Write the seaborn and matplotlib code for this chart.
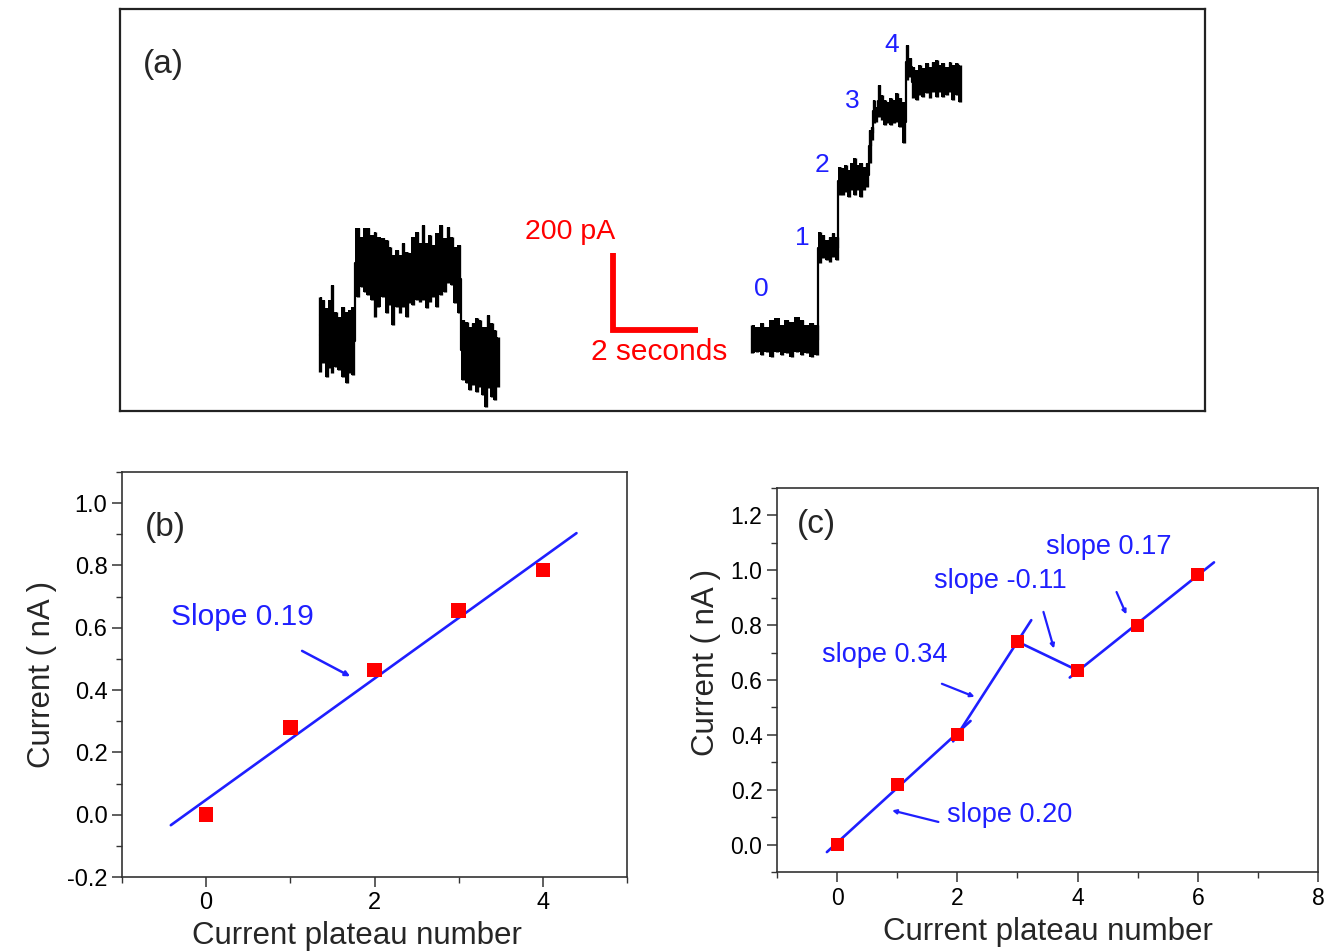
import numpy as np
import pandas as pd
import matplotlib
matplotlib.use("Agg")
import matplotlib.pyplot as plt
from matplotlib.ticker import MultipleLocator
import seaborn as sns

# ---------------- data ----------------
# panel (a): current traces (time in s, current envelope in pA)
left_t = [4.71, 4.78, 4.87, 4.94, 4.99, 5.08, 5.15, 5.25, 5.34, 5.41, 5.48,
          5.60, 5.69, 5.76, 5.84, 5.93, 6.00, 6.07, 6.19, 6.28, 6.35, 6.42, 6.52, 6.59, 6.66, 6.75,
          6.82, 6.89, 6.99, 7.06, 7.13, 7.22, 7.29, 7.36, 7.46, 7.55, 7.65, 7.72, 7.81, 7.88, 7.98,
          8.07, 8.16, 8.24, 8.31, 8.40, 8.47, 8.54, 8.61, 8.66, 8.75, 8.82, 8.89]
left_hi = [296, 289, 268, 289, 328, 257, 244, 270, 257, 263, 270,
           476, 452, 476, 476, 458, 465, 452, 450, 445, 426, 406, 419, 406, 437, 413,
           411, 452, 465, 437, 484, 437, 458, 432, 463, 484, 450, 478, 452, 426, 432,
           237, 231, 218, 229, 242, 237, 218, 218, 250, 229, 211, 192]
left_lo = [101, 125, 88, 112, 99, 114, 107, 88, 73, 99, 94,
           296, 322, 309, 302, 289, 244, 270, 296, 255, 276, 224, 270, 255, 270, 244,
           281, 276, 289, 283, 289, 268, 283, 296, 270, 302, 309, 333, 328, 281, 255,
           81, 73, 55, 68, 49, 62, 42, 10, 60, 36, 29, 62]

right_t = [14.87, 14.99, 15.11, 15.22, 15.34, 15.46, 15.58, 15.69, 15.81, 15.93, 16.05, 16.16, 16.28, 16.40,
           16.47, 16.54, 16.64, 16.71, 16.78, 16.87,
           16.94, 17.01, 17.08, 17.15, 17.22, 17.29, 17.36, 17.44, 17.51, 17.58,
           17.65, 17.69, 17.74,
           17.79, 17.86, 17.93, 18.00, 18.07, 18.14, 18.21, 18.28, 18.35, 18.45,
           18.52, 18.59, 18.66, 18.75, 18.82, 18.89, 18.99, 19.06, 19.13, 19.22, 19.29, 19.36,
           19.46, 19.53, 19.60, 19.69, 19.76]
right_hi = [224, 218, 229, 218, 237, 242, 224, 237, 231, 244, 237, 224, 229, 224,
            465, 458, 445, 452, 463, 452,
            634, 632, 640, 627, 645, 658, 640, 645, 634, 645,
            731, 738, 809,
            790, 848, 822, 809, 803, 814, 809, 827, 814, 803,
            952, 918, 894, 887, 900, 892, 905, 894, 907, 913, 900, 905, 894, 907, 900, 905, 900]
right_lo = [151, 153, 146, 153, 140, 153, 146, 151, 140, 153, 146, 151, 140, 146,
            385, 398, 393, 387, 400, 393,
            562, 562, 569, 556, 575, 562, 575, 556, 575, 582,
            645, 705, 749,
            751, 764, 757, 744, 749, 744, 749, 751, 738, 697,
            861, 868, 814, 809, 822, 816, 827, 814, 829, 816, 829, 816, 822, 829, 809, 822, 803]

plateau_labels = ["0", "1", "2", "3", "4"]
plateau_label_t = [15.1, 16.05, 16.52, 17.22, 18.16]
plateau_label_I = [317, 450, 640, 806, 952]

scale_t0, scale_I0 = 11.6, 210      # corner of the scale bar
scale_dt, scale_dI = 2.0, 200       # 2 seconds, 200 pA

# panel (b)
b_plateau = [0, 1, 2, 3, 4]
b_current = [0.0, 0.28, 0.465, 0.655, 0.785]
b_fit_range = [-0.42, 4.4]

# panel (c)
c_plateau = [0, 1, 2, 3, 4, 5, 6]
c_current = [0.0, 0.22, 0.40, 0.74, 0.635, 0.80, 0.985]
# (first index, last index, x start, x end) of each fitted segment
c_segments = [(0, 2, -0.17, 2.22), (2, 3, 1.93, 3.23), (3, 4, 3.0, 4.0), (4, 6, 3.87, 6.27)]

# ---------------- style ----------------
sns.set_theme(style="ticks")
plt.rcParams["font.family"] = ["Liberation Sans", "DejaVu Sans"]
plt.rcParams["axes.edgecolor"] = "#333333"
plt.rcParams["axes.linewidth"] = 1.2

BLUE = "#1f1fff"
RED = "#ff0000"

fig = plt.figure(figsize=(13.39, 9.52), dpi=100)

# ---------------- panel (a) ----------------
axa = fig.add_axes([120 / 1339, 1 - 411 / 952, 1085 / 1339, 402 / 952])
for t, hi, lo in [(left_t, left_hi, left_lo), (right_t, right_hi, right_lo)]:
    t = np.asarray(t); hi = np.asarray(hi); lo = np.asarray(lo)
    axa.fill_between(t, lo, hi, step="mid", color="black", lw=0)
    axa.vlines(t, lo, hi, color="black", lw=2.4)
    sns.lineplot(x=t, y=(hi + lo) / 2, ax=axa, color="black", lw=1.6,
                 drawstyle="steps-mid", estimator=None, sort=False)
axa.plot([scale_t0, scale_t0, scale_t0 + scale_dt],
         [scale_I0 + scale_dI, scale_I0, scale_I0], color=RED, lw=4.2,
         solid_joinstyle="miter", solid_capstyle="butt")
axa.text(scale_t0 - 1.0, scale_I0 + scale_dI + 55, "200 pA", color=RED, fontsize=20.5,
         ha="center", va="center")
axa.text(scale_t0 + 1.08, scale_I0 - 57, "2 seconds", color=RED, fontsize=21.5,
         ha="center", va="center")
for lab, t, I in zip(plateau_labels, plateau_label_t, plateau_label_I):
    axa.text(t, I, lab, color=BLUE, fontsize=19, ha="center", va="center")
axa.text(0.021, 0.861, "(a)", transform=axa.transAxes, fontsize=24, va="center")
axa.set_xlim(0, 25.53)
axa.set_ylim(0, 1045)
axa.set_xticks([]); axa.set_yticks([])
axa.set_xlabel(""); axa.set_ylabel("")
for s in axa.spines.values():
    s.set_color("#222222"); s.set_linewidth(1.6)

# ---------------- shared styling for (b), (c) ----------------
def style_axis(ax, fs):
    ax.tick_params(axis="both", which="major", direction="out", length=7, width=1.1,
                   labelsize=fs, top=False, right=False, colors="#333333", labelcolor="black")
    ax.tick_params(axis="both", which="minor", direction="out", length=4, width=1.0,
                   top=False, right=False, colors="#333333")
    ax.set_xlabel("Current plateau number", fontsize=22.5, labelpad=5)
    ax.set_ylabel("Current ( nA )", fontsize=22.5, labelpad=7)
    for s in ax.spines.values():
        s.set_visible(True)

# ---------------- panel (b) ----------------
axb = fig.add_axes([122 / 1339, 1 - 877 / 952, 505 / 1339, 405 / 952])
slope_b, icpt_b = np.polyfit(b_plateau, b_current, 1)
xb = np.array(b_fit_range)
sns.lineplot(x=xb, y=slope_b * xb + icpt_b, ax=axb, color=BLUE, lw=1.9)
sns.scatterplot(x=b_plateau, y=b_current, ax=axb, marker="s", s=110, color=RED,
                edgecolor="none", zorder=3)
axb.set_xlim(-1, 5)
axb.set_ylim(-0.2, 1.1)
axb.xaxis.set_major_locator(MultipleLocator(2))
axb.xaxis.set_minor_locator(MultipleLocator(1))
axb.set_yticks([-0.2, 0.0, 0.2, 0.4, 0.6, 0.8, 1.0])
axb.set_yticklabels(["-0.2", "0.0", "0.2", "0.4", "0.6", "0.8", "1.0"])
axb.yaxis.set_minor_locator(MultipleLocator(0.1))
style_axis(axb, 17)
axb.xaxis.label.set_x(0.465)
axb.text(-0.42, 0.636, "Slope 0.19", color=BLUE, fontsize=21.5, va="center", ha="left")
axb.annotate("", xy=(1.74, 0.44), xytext=(1.11, 0.53),
             arrowprops=dict(arrowstyle="-|>", color=BLUE, lw=1.8, mutation_scale=7))
axb.text(0.046, 0.864, "(b)", transform=axb.transAxes, fontsize=24, va="center")

# ---------------- panel (c) ----------------
axc = fig.add_axes([777 / 1339, 1 - 872 / 952, 541 / 1339, 384 / 952])
for i0, i1, x0, x1 in c_segments:
    k, b0 = np.polyfit(c_plateau[i0:i1 + 1], c_current[i0:i1 + 1], 1)
    xs = np.array([x0, x1])
    sns.lineplot(x=xs, y=k * xs + b0, ax=axc, color=BLUE, lw=1.9)
sns.scatterplot(x=c_plateau, y=c_current, ax=axc, marker="s", s=85, color=RED,
                edgecolor="none", zorder=3)
axc.set_xlim(-1, 8)
axc.set_ylim(-0.1, 1.3)
axc.xaxis.set_major_locator(MultipleLocator(2))
axc.xaxis.set_minor_locator(MultipleLocator(1))
axc.set_yticks([0.0, 0.2, 0.4, 0.6, 0.8, 1.0, 1.2])
axc.set_yticklabels(["0.0", "0.2", "0.4", "0.6", "0.8", "1.0", "1.2"])
axc.yaxis.set_minor_locator(MultipleLocator(0.1))
style_axis(axc, 16.5)
axc.yaxis.label.set_y(0.547)
c_notes = [("slope 0.17", (3.48, 1.084), (4.63, 0.93), (4.83, 0.83)),
           ("slope -0.11", (1.62, 0.96), (3.42, 0.858), (3.62, 0.705)),
           ("slope 0.34", (-0.25, 0.69), (1.70, 0.59), (2.33, 0.535)),
           ("slope 0.20", (1.83, 0.109), (1.73, 0.08), (0.87, 0.127))]
for txt, pos, start, end in c_notes:
    axc.text(pos[0], pos[1], txt, color=BLUE, fontsize=19.5, va="center", ha="left")
    axc.annotate("", xy=end, xytext=start,
                 arrowprops=dict(arrowstyle="-|>", color=BLUE, lw=1.6, mutation_scale=6))
axc.text(0.037, 0.904, "(c)", transform=axc.transAxes, fontsize=24, va="center")

fig.savefig("out.png", dpi=100, facecolor="white")
